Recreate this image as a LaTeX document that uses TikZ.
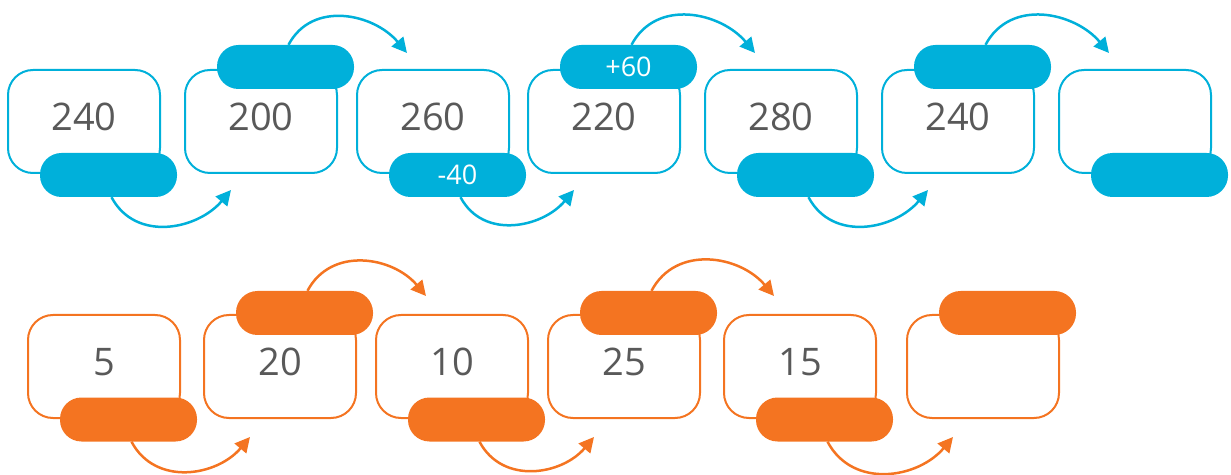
\documentclass[tikz,border=0pt]{standalone}
\usepackage{fontspec}
\setmainfont{Open Sans}
\usetikzlibrary{arrows.meta}
\definecolor{cblue}{RGB}{0,176,218}
\definecolor{corange}{RGB}{244,116,33}
\definecolor{numgrey}{RGB}{89,89,89}
\tikzset{
  box/.style={draw=#1, line width=2pt, rounded corners=25pt, minimum width=152pt, minimum height=103pt,
    inner sep=0pt, text=numgrey, font=\fontsize{38}{38}\selectfont, text depth=9pt},
  pill/.style={fill=#1, rounded corners=21.5pt, minimum width=137pt, minimum height=44pt,
    inner sep=0pt, text=white, font=\fontsize{27}{27}\selectfont},
  hop/.style={draw=#1, line width=2.5pt, looseness=1.1, -{Triangle[length=15pt,width=15pt]}},
}
\begin{document}
\begin{tikzpicture}[x=1pt,y=1pt]
    \useasboundingbox (0,0) rectangle (1231,474);
    % blue chain
    \foreach \n/\x/\v in {1/84/240, 2/261/200, 3/433/260, 4/604/220, 5/781/280, 6/958/240, 7/1135/{}}
        \node[box=cblue] (b\n) at (\x,352.5) {\v};
    \foreach \n/\t in {1/{}, 3/-40, 5/{}, 7/{}}
        \node[pill=cblue] (p\n) at ([xshift=24.5pt,yshift=-1pt]b\n.south) {\t};
    \foreach \n/\t in {2/{}, 4/+60, 6/{}}
        \node[pill=cblue] (p\n) at ([xshift=24.5pt,yshift=2pt]b\n.north) {\t};
    \foreach \a/\b in {1/2, 3/4, 5/6}
        \draw[hop=cblue] ([xshift=3pt]p\a.south) to[out=-62, in=-130] ([xshift=47pt,yshift=-16pt]b\b.south west);
    \foreach \a/\b in {2/3, 4/5, 6/7}
        \draw[hop=cblue] ([xshift=3pt]p\a.north) to[out=62, in=130] ([xshift=51pt,yshift=16pt]b\b.north west);
    % orange chain
    \foreach \n/\x/\v in {1/104/5, 2/280/20, 3/452/10, 4/624/25, 5/800/15, 6/983/{}}
        \node[box=corange] (c\n) at (\x,107.5) {\v};
    \foreach \n in {1, 3, 5}
        \node[pill=corange] (q\n) at ([xshift=24.5pt,yshift=-0.5pt]c\n.south) {};
    \foreach \n in {2, 4, 6}
        \node[pill=corange] (q\n) at ([xshift=24.5pt,yshift=1pt]c\n.north) {};
    \foreach \a/\b in {1/2, 3/4, 5/6}
        \draw[hop=corange] ([xshift=3pt]q\a.south) to[out=-62, in=-130] ([xshift=47pt,yshift=-18pt]c\b.south west);
    \foreach \a/\b in {2/3, 4/5}
        \draw[hop=corange] ([xshift=3pt]q\a.north) to[out=62, in=130] ([xshift=51pt,yshift=18pt]c\b.north west);
\end{tikzpicture}
\end{document}
